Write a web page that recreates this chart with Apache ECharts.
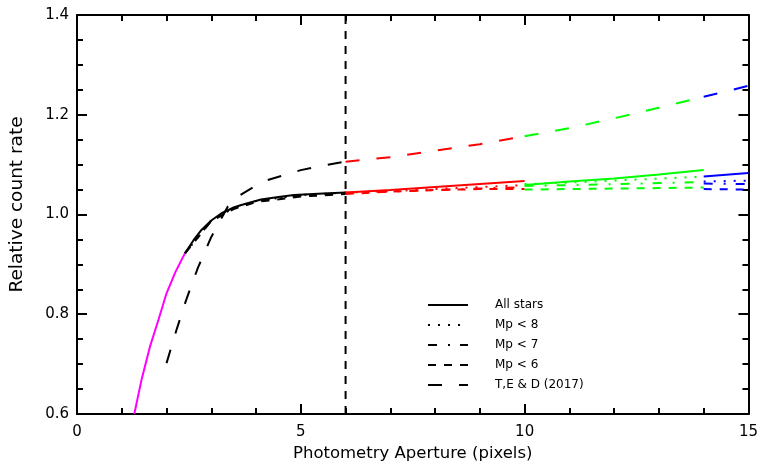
<!DOCTYPE html>
<html><head><meta charset="utf-8">
<script src="https://cdn.jsdelivr.net/npm/echarts@6/dist/echarts.min.js"></script>
<style>html,body{margin:0;padding:0;background:#fff}#c{width:761px;height:467px}</style>
</head><body><div id="c"></div>
<script>
// ---- data ----
const legendNames = ['All stars', 'Mp < 8', 'Mp < 7', 'Mp < 6', 'T,E & D (2017)'];
const xTicks = [0, 5, 10, 15];
const yTicks = [0.6, 0.8, 1.0, 1.2, 1.4];

// All stars (solid)
const allMagX = [1.28, 1.44, 1.63, 1.82, 2.0, 2.2, 2.41];
const allMagY = [0.60, 0.668, 0.735, 0.789, 0.842, 0.885, 0.922];
const allBlkX = [2.41, 2.6, 2.78, 3.0, 3.22, 3.5, 3.67, 4.11, 4.5, 4.85, 5.5, 6.0];
const allBlkY = [0.922, 0.948, 0.969, 0.988, 1.002, 1.014, 1.019, 1.030, 1.035, 1.039, 1.042, 1.044];
const allRedX = [6, 7, 8, 9, 10];
const allRedY = [1.044, 1.049, 1.055, 1.061, 1.067];
const allGrnX = [10, 11, 12, 13, 14];
const allGrnY = [1.059, 1.066, 1.072, 1.080, 1.089];
const allBluX = [14, 15];
const allBluY = [1.076, 1.083];

// Mp < 8 (dotted)
const mp8BlkX = [2.41, 3.0, 3.5, 4.0, 5.0, 6.0];
const mp8BlkY = [0.922, 0.988, 1.013, 1.027, 1.039, 1.044];
const mp8RedX = [6, 7, 8, 9, 10];
const mp8RedY = [1.044, 1.047, 1.051, 1.055, 1.059];
const mp8GrnX = [10, 11, 12, 13, 14];
const mp8GrnY = [1.061, 1.064, 1.068, 1.072, 1.076];
const mp8BluX = [14, 15];
const mp8BluY = [1.066, 1.068];

// Mp < 7 (dash-dot)
const mp7BlkX = [2.41, 3.0, 3.5, 4.0, 5.0, 6.0];
const mp7BlkY = [0.922, 0.988, 1.013, 1.027, 1.038, 1.043];
const mp7RedX = [6, 7, 8, 9, 10];
const mp7RedY = [1.043, 1.046, 1.049, 1.052, 1.055];
const mp7GrnX = [10, 11, 12, 13, 14];
const mp7GrnY = [1.057, 1.059, 1.061, 1.063, 1.065];
const mp7BluX = [14, 15];
const mp7BluY = [1.062, 1.061];

// Mp < 6 (dashed)
const mp6BlkX = [2.41, 3.0, 3.5, 4.0, 5.0, 6.0];
const mp6BlkY = [0.922, 0.987, 1.011, 1.025, 1.036, 1.041];
const mp6RedX = [6, 7, 8, 9, 10];
const mp6RedY = [1.041, 1.046, 1.049, 1.051, 1.051];
const mp6GrnX = [10, 11, 12, 13, 14];
const mp6GrnY = [1.050, 1.051, 1.052, 1.053, 1.054];
const mp6BluX = [14, 15];
const mp6BluY = [1.051, 1.050];

// T,E & D (2017) (long dashed)
const tedBlkX = [2.0, 2.22, 2.44, 2.7, 3.0, 3.37, 3.59, 4.0, 4.26, 5.0, 5.5, 6.0];
const tedBlkY = [0.702, 0.768, 0.829, 0.893, 0.955, 1.016, 1.036, 1.058, 1.069, 1.089, 1.098, 1.106];
const tedRedX = [6, 7, 8, 9, 10];
const tedRedY = [1.106, 1.115, 1.128, 1.141, 1.157];
const tedGrnX = [10, 11, 12, 13, 14];
const tedGrnY = [1.157, 1.173, 1.193, 1.214, 1.236];
const tedBluX = [14, 15];
const tedBluY = [1.236, 1.258];

// vertical reference line
const vLineX = [6, 6];
const vLineY = [0.6, 1.4];

// ---- styles ----
const C = { mag: '#ff00ff', blk: '#000000', red: '#ff0000', grn: '#00ff00', blu: '#0000ff' };
const DASH = { solid: 'solid', dot: [2, 8], dashdot: [9, 11, 2, 10], dash: [8, 8], ted: [14, 17] };

function zip(xs, ys) { return xs.map((x, i) => [x, ys[i]]); }
function seg(name, xs, ys, color, type, z) {
  return {
    name: name, type: 'line', data: zip(xs, ys), symbol: 'none', silent: true,
    lineStyle: { color: color, width: 2, type: type }, itemStyle: { color: color },
    z: z, animation: false
  };
}
const series = [
  seg('ted-k', tedBlkX, tedBlkY, C.blk, DASH.ted, 2),
  seg('ted-r', tedRedX, tedRedY, C.red, DASH.ted, 2),
  seg('ted-g', tedGrnX, tedGrnY, C.grn, DASH.ted, 2),
  seg('ted-b', tedBluX, tedBluY, C.blu, DASH.ted, 2),
  seg('mp6-k', mp6BlkX, mp6BlkY, C.blk, DASH.dash, 3),
  seg('mp6-r', mp6RedX, mp6RedY, C.red, DASH.dash, 3),
  seg('mp6-g', mp6GrnX, mp6GrnY, C.grn, DASH.dash, 3),
  seg('mp6-b', mp6BluX, mp6BluY, C.blu, DASH.dash, 3),
  seg('mp7-k', mp7BlkX, mp7BlkY, C.blk, DASH.dashdot, 4),
  seg('mp7-r', mp7RedX, mp7RedY, C.red, DASH.dashdot, 4),
  seg('mp7-g', mp7GrnX, mp7GrnY, C.grn, DASH.dashdot, 4),
  seg('mp7-b', mp7BluX, mp7BluY, C.blu, DASH.dashdot, 4),
  seg('mp8-k', mp8BlkX, mp8BlkY, C.blk, DASH.dot, 5),
  seg('mp8-r', mp8RedX, mp8RedY, C.red, DASH.dot, 5),
  seg('mp8-g', mp8GrnX, mp8GrnY, C.grn, DASH.dot, 5),
  seg('mp8-b', mp8BluX, mp8BluY, C.blu, DASH.dot, 5),
  seg('all-m', allMagX, allMagY, C.mag, DASH.solid, 6),
  seg('all-k', allBlkX, allBlkY, C.blk, DASH.solid, 6),
  seg('all-r', allRedX, allRedY, C.red, DASH.solid, 6),
  seg('all-g', allGrnX, allGrnY, C.grn, DASH.solid, 6),
  seg('all-b', allBluX, allBluY, C.blu, DASH.solid, 6),
  seg('vline', vLineX, vLineY, C.blk, [8, 7], 7)
];
const legendTypes = [DASH.solid, DASH.dot, DASH.dashdot, DASH.dash, DASH.ted];
legendNames.forEach((n, i) => {
  series.push({
    name: n, type: 'line', data: [], symbol: 'none',
    lineStyle: { color: '#000', width: 2, type: legendTypes[i] },
    itemStyle: { color: '#000', opacity: 0 }
  });
});

const FONT = 'DejaVu Sans';
const axisCommon = {
  axisLine: { show: true, onZero: false, lineStyle: { color: '#000', width: 2 } },
  axisTick: { show: true, inside: true, length: 10, lineStyle: { color: '#000', width: 2 } },
  minorTick: { show: true, length: 6, lineStyle: { color: '#000', width: 2 } },
  splitLine: { show: false }, minorSplitLine: { show: false }
};

const chart = echarts.init(document.getElementById('c'), null, { renderer: 'canvas' });
chart.setOption({
  animation: false,
  backgroundColor: '#fff',
  textStyle: { fontFamily: FONT },
  grid: { left: 75, right: 11, top: 15, bottom: 53, containLabel: false },
  legend: {
    data: legendNames, orient: 'vertical', left: 422, top: 290,
    itemWidth: 40, itemHeight: 14, itemGap: 0, selectedMode: false,
    itemStyle: { opacity: 0 },
    textStyle: { fontFamily: FONT, fontSize: 12, lineHeight: 20, color: '#000', padding: [0, 0, 0, 22] }
  },
  xAxis: [
    Object.assign({}, axisCommon, {
      type: 'value', min: xTicks[0], max: xTicks[xTicks.length - 1], interval: 5, position: 'bottom',
      minorTick: Object.assign({}, axisCommon.minorTick, { splitNumber: 5 }),
      axisLabel: { show: true, color: '#000', fontSize: 15, fontFamily: FONT, margin: 11 },
      name: 'Photometry Aperture (pixels)', nameLocation: 'middle', nameGap: 31,
      nameTextStyle: { color: '#000', fontSize: 16.5, fontFamily: FONT }
    }),
    Object.assign({}, axisCommon, {
      type: 'value', min: xTicks[0], max: xTicks[xTicks.length - 1], interval: 5, position: 'top',
      minorTick: Object.assign({}, axisCommon.minorTick, { splitNumber: 5 }),
      axisLabel: { show: false }
    })
  ],
  yAxis: [
    Object.assign({}, axisCommon, {
      type: 'value', min: yTicks[0], max: yTicks[yTicks.length - 1], interval: 0.2, position: 'left',
      minorTick: Object.assign({}, axisCommon.minorTick, { splitNumber: 4 }),
      axisLabel: { show: true, color: '#000', fontSize: 15, fontFamily: FONT, margin: 8,
        formatter: v => v.toFixed(1) },
      name: 'Relative count rate', nameLocation: 'middle', nameGap: 50, nameRotate: 90,
      nameTextStyle: { color: '#000', fontSize: 18.5, fontFamily: FONT, padding: [0, 0, 0, 20] }
    }),
    Object.assign({}, axisCommon, {
      type: 'value', min: yTicks[0], max: yTicks[yTicks.length - 1], interval: 0.2, position: 'right',
      minorTick: Object.assign({}, axisCommon.minorTick, { splitNumber: 4 }),
      axisLabel: { show: false }
    })
  ],
  series: series
});
</script>
</body></html>
